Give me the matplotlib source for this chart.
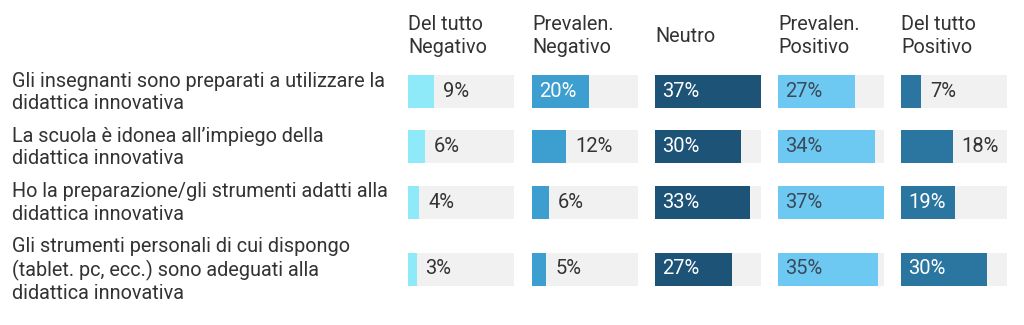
import matplotlib
matplotlib.use("Agg")
import matplotlib.pyplot as plt

# ---- data ----
categories = [
    "Gli insegnanti sono preparati a utilizzare la\ndidattica innovativa",
    "La scuola è idonea all’impiego della\ndidattica innovativa",
    "Ho la preparazione/gli strumenti adatti alla\ndidattica innovativa",
    "Gli strumenti personali di cui dispongo\n(tablet. pc, ecc.) sono adeguati alla\ndidattica innovativa",
]
columns = ["Del tutto\nNegativo", "Prevalen.\nNegativo", "Neutro", "Prevalen.\nPositivo", "Del tutto\nPositivo"]
del_tutto_negativo = [9, 6, 4, 3]
prevalen_negativo = [20, 12, 6, 5]
neutro = [37, 30, 33, 27]
prevalen_positivo = [27, 34, 37, 35]
del_tutto_positivo = [7, 18, 19, 30]
series = [del_tutto_negativo, prevalen_negativo, neutro, prevalen_positivo, del_tutto_positivo]

# ---- style / layout ----
W, H = 1024, 325
colors = ["#8ee9f9", "#3c9fcf", "#1d5377", "#6dc8f2", "#2a76a1"]
text_in = ["#333333", "#ffffff", "#ffffff", "#3a4a58", "#ffffff"]
bg_color = "#f1f1f1"
txt = "#333333"
col_x = [408, 532, 655, 778, 901]
col_w = 106
row_y = [91.5, 146.5, 202, 269]
bar_h = 33
xmax = 37
inside_threshold = 19
font = "Roboto"

fig = plt.figure(figsize=(W / 100, H / 100), dpi=100)
fig.patch.set_facecolor("white")

for j, (vals, cname) in enumerate(zip(series, columns)):
    ax = fig.add_axes([col_x[j] / W, 0, col_w / W, 1])
    ax.set_xlim(0, xmax)
    ax.set_ylim(H, 0)
    ax.axis("off")
    ax.barh(row_y, [xmax] * len(vals), height=bar_h, color=bg_color, linewidth=0)
    ax.barh(row_y, vals, height=bar_h, color=colors[j], linewidth=0)
    for y, v in zip(row_y, vals):
        if v >= inside_threshold:
            ax.annotate(f"{v}%", (0, y), xytext=(7, 0), textcoords="offset pixels",
                        ha="left", va="center", fontsize=14.5, color=text_in[j], family=font)
        else:
            ax.annotate(f"{v}%", (v, y), xytext=(9, 0), textcoords="offset pixels",
                        ha="left", va="center", fontsize=14.5, color=txt, family=font)
    fig.text(col_x[j] / W, 1 - 36 / H, cname, ha="left", va="center", fontsize=14.3,
             color=txt, family=font, linespacing=1.22)

for lab, y in zip(categories, row_y):
    fig.text(12 / W, 1 - (y + 1) / H, lab, ha="left", va="center", fontsize=14.3,
             color=txt, family=font, linespacing=1.22)

fig.savefig("out.png", dpi=100, facecolor="white")
